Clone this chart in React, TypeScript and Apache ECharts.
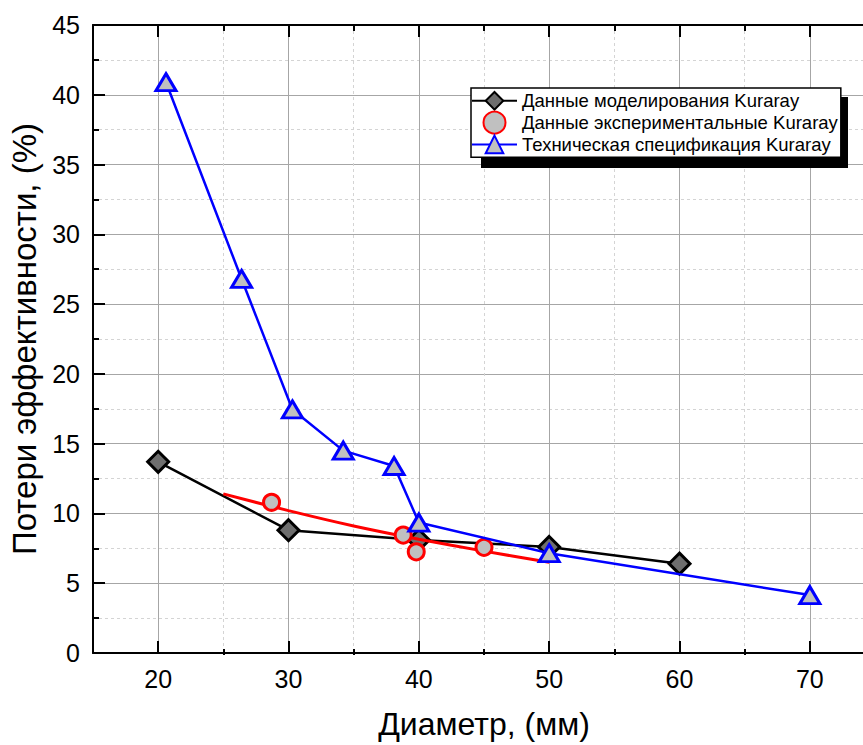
import React, { useEffect, useRef } from "react";
import * as echarts from "echarts";

const modelData: [number, number][] = [
  [20, 13.7],
  [30, 8.8],
  [40, 8.1],
  [50, 7.6],
  [60, 6.4],
];
const expData: [number, number][] = [
  [28.7, 10.8],
  [38.8, 8.45],
  [39.8, 7.25],
  [45.0, 7.57],
];
const expFit: [number, number][] = [
  [25, 11.4],
  [30, 10.2],
  [35, 9.1],
  [40, 8.15],
  [45, 7.3],
  [50, 6.5],
];
const specData: [number, number][] = [
  [20.6, 40.9],
  [26.4, 26.8],
  [30.3, 17.45],
  [34.2, 14.5],
  [38.1, 13.4],
  [40.0, 9.35],
  [50.0, 7.15],
  [70.0, 4.15],
];
const xMajorTicks = [20, 30, 40, 50, 60, 70];
const xMinorTicks = [25, 35, 45, 55, 65];

const FONT = "'Liberation Sans', Arial, sans-serif";

export default function App() {
  const ref = useRef<HTMLDivElement>(null);
  useEffect(() => {
    if (!ref.current) return;
    const chart = echarts.init(ref.current, undefined, { renderer: "svg" });
    const gridRect = { left: 93, top: 25, right: 0, bottom: 90 };
    const xBase = { type: "value", min: 15, max: 75 };
    chart.setOption({
      animation: false,
      backgroundColor: "#ffffff",
      textStyle: { fontFamily: FONT },
      grid: [
        { ...gridRect, containLabel: false },
        { ...gridRect, containLabel: false },
      ],
      xAxis: [
        {
          ...xBase,
          gridIndex: 0,
          position: "bottom",
          name: "Диаметр, (мм)",
          nameLocation: "middle",
          nameGap: 55,
          nameTextStyle: { fontSize: 32, color: "#000", fontFamily: FONT },
          axisLine: { show: true, onZero: false, lineStyle: { color: "#000", width: 2 } },
          axisTick: { show: true, inside: true, length: 12, customValues: xMajorTicks, lineStyle: { color: "#000", width: 2 } },
          axisLabel: { show: true, customValues: xMajorTicks, fontSize: 25, color: "#000", margin: 13, fontFamily: FONT },
          splitLine: { show: true, lineStyle: { color: "#a6a6a6", width: 1 } },
        },
        {
          ...xBase,
          gridIndex: 0,
          position: "top",
          axisLine: { show: true, onZero: false, lineStyle: { color: "#000", width: 2 } },
          axisTick: { show: true, inside: true, length: 12, customValues: xMajorTicks, lineStyle: { color: "#000", width: 2 } },
          axisLabel: { show: false },
          splitLine: { show: false },
        },
        {
          ...xBase,
          gridIndex: 1,
          position: "bottom",
          axisLine: { show: false, onZero: false },
          axisTick: { show: true, inside: true, length: 6, customValues: xMinorTicks, lineStyle: { color: "#000", width: 2 } },
          axisLabel: { show: false },
          splitLine: { show: true, lineStyle: { color: "#d4d4d4", width: 1, type: [3, 3] } },
        },
        {
          ...xBase,
          gridIndex: 1,
          position: "top",
          axisLine: { show: false, onZero: false },
          axisTick: { show: true, inside: true, length: 6, customValues: xMinorTicks, lineStyle: { color: "#000", width: 2 } },
          axisLabel: { show: false },
          splitLine: { show: false },
        },
      ],
      yAxis: [
        {
          type: "value",
          gridIndex: 0,
          min: 0,
          max: 45,
          interval: 5,
          position: "left",
          name: "Потери эффективности, (%)",
          nameLocation: "middle",
          nameGap: 46,
          nameTextStyle: { fontSize: 33, color: "#000", fontFamily: FONT },
          axisLine: { show: true, onZero: false, lineStyle: { color: "#000", width: 2 } },
          axisTick: { show: true, inside: true, length: 12, lineStyle: { color: "#000", width: 2 } },
          minorTick: { show: true, splitNumber: 2, length: 6, lineStyle: { color: "#000", width: 2 } },
          axisLabel: { fontSize: 25, color: "#000", margin: 13, fontFamily: FONT },
          splitLine: { show: true, lineStyle: { color: "#a6a6a6", width: 1 } },
          minorSplitLine: { show: true, lineStyle: { color: "#d4d4d4", width: 1, type: [3, 3] } },
        },
        {
          type: "value",
          gridIndex: 1,
          min: 0,
          max: 45,
          show: false,
        },
      ],
      legend: {
        left: 471,
        top: 88,
        orient: "vertical",
        itemWidth: 45,
        itemHeight: 22,
        itemGap: 0,
        padding: [3, 3, 3, 0],
        backgroundColor: "#ffffff",
        borderColor: "#000",
        borderWidth: 1.5,
        borderRadius: 0,
        z: 5,
        textStyle: { fontSize: 18.5, color: "#000", fontFamily: FONT },
        data: [
          "Данные моделирования Kuraray",
          "Данные экспериментальные Kuraray",
          "Техническая спецификация Kuraray",
        ],
      },
      graphic: [
        {
          type: "rect",
          z: 4,
          shape: { x: 481, y: 97, width: 367, height: 71 },
          style: { fill: "#000" },
        },
      ],
      series: [
        {
          name: "Данные моделирования Kuraray",
          type: "line",
          xAxisIndex: 0,
          yAxisIndex: 0,
          data: modelData,
          symbol: "diamond",
          symbolSize: 21,
          lineStyle: { color: "#000", width: 2.5 },
          itemStyle: { color: "#6e6e6e", borderColor: "#000", borderWidth: 3 },
          z: 2,
        },
        {
          name: "fit",
          type: "line",
          xAxisIndex: 0,
          yAxisIndex: 0,
          data: expFit,
          smooth: 0.3,
          symbol: "none",
          lineStyle: { color: "#ff0000", width: 3 },
          itemStyle: { color: "#ff0000" },
          z: 3,
        },
        {
          name: "Данные экспериментальные Kuraray",
          type: "scatter",
          xAxisIndex: 0,
          yAxisIndex: 0,
          data: expData,
          symbol: "circle",
          symbolSize: 16,
          itemStyle: { color: "#c0c0c0", borderColor: "#ff0000", borderWidth: 3, opacity: 1 },
          z: 3,
        },
        {
          name: "Техническая спецификация Kuraray",
          type: "line",
          xAxisIndex: 0,
          yAxisIndex: 0,
          data: specData,
          symbol: "triangle",
          symbolSize: [20, 17],
          lineStyle: { color: "#0000ff", width: 2.5 },
          itemStyle: { color: "#c0c0c0", borderColor: "#0000ff", borderWidth: 3 },
          z: 4,
        },
      ],
    });
    return () => chart.dispose();
  }, []);
  return (
    <div
      style={{ position: "absolute", left: 0, top: 0, width: 863, height: 745, overflow: "hidden", background: "#fff" }}
    >
      <div ref={ref} style={{ position: "absolute", left: 0, top: 0, width: 875, height: 745 }} />
    </div>
  );
}
